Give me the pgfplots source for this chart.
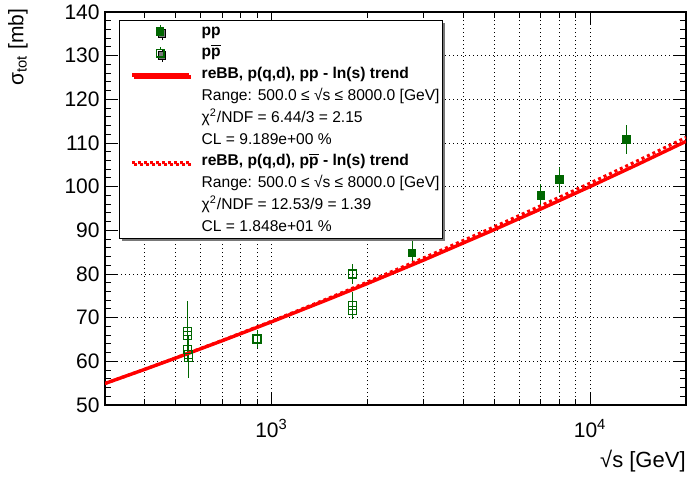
\documentclass[border=0pt]{standalone}
\usepackage{pgfplots}
\pgfplotsset{compat=1.18}
\usepackage{pgfplotstable}
\usepackage{fontspec}
\setmainfont{Liberation Sans}
\usetikzlibrary{shadows}
\definecolor{dgreen}{RGB}{0,102,0}
\definecolor{shadowgray}{RGB}{120,120,120}

\pgfplotstableread{
x y ey
2760 84.8 3.0
7000 98.0 2.7
8000 101.7 2.9
13000 110.8 3.4
}\pptab

\pgfplotstableread{
x y ey
546 66.8 7.0
546 66.0 1.6
546 62.8 1.5
550 61.5 1.0
550 60.9 4.8
900 65.1 2.0
1800 80.0 2.2
1800 72.8 3.1
1800 71.7 2.0
}\ppbartab

\pgfplotstableread{
x y
300 54.93
400 58.17
500 60.75
700 64.72
1000 69.05
1500 74.13
2000 77.83
3000 83.18
5000 90.16
7000 94.89
10000 100.03
14000 104.99
20000 110.38
}\solidtab

\pgfplotstableread{
x y
300 54.93
400 58.19
500 60.80
700 64.80
1000 69.20
1500 74.38
2000 78.18
3000 83.68
5000 90.81
7000 95.64
10000 100.83
14000 105.84
20000 111.28
}\dottab

\pgfplotsset{
  mylinelegend/.style={legend image code/.code={\path (0pt,0pt); \draw[##1] (4pt,0pt) -- (32.5pt,0pt);}},
}

\begin{document}
\begin{tikzpicture}
\useasboundingbox (-52.5pt,-39pt) rectangle (292pt,202.5pt);
\begin{axis}[
  at={(0pt,0pt)}, anchor=south west,
  scale only axis, width=290.5pt, height=196.5pt,
  xmode=log, xmin=300, xmax=20000, ymin=50, ymax=140,
  xtick={1000,10000},
  xticklabels={10\textsuperscript{3},10\textsuperscript{4}},
  minor xtick={400,500,600,700,800,900,2000,3000,4000,5000,6000,7000,8000,9000,20000},
  ytick={50,60,...,140},
  minor ytick={52,54,...,138},
  tick pos=both, tick align=inside,
  major tick length=6pt, minor tick length=3.2pt,
  tick style={black, line width=0.5pt},
  axis line style={line width=0.6pt},
  xmajorgrids, xminorgrids, ymajorgrids,
  grid style={black, line width=0.45pt, dash pattern=on 0.55pt off 1.45pt},
  minor grid style={black, line width=0.45pt, dash pattern=on 0.55pt off 1.45pt},
  /pgf/number format/assume math mode=true,
  ticklabel style={font=\fontsize{10.5}{12}\selectfont},
  yticklabel style={inner xsep=0pt, xshift=-2.5pt},
  xticklabel style={anchor=base, yshift=-16pt},
  xlabel={√s [GeV]},
  xlabel style={font=\fontsize{11}{13}\selectfont, at={(axis description cs:1,-0.158)}, anchor=base east, inner sep=0pt},
  ylabel={σ\textsubscript{tot} [mb]},
  ylabel style={font=\fontsize{10.5}{12}\selectfont, at={(axis description cs:-0.1497,1.01)}, anchor=east, inner sep=0pt},
  legend cell align=left,
  legend style={at={(axis description cs:0.0241,0.9796)}, anchor=north west,
    draw=black, line width=0.5pt, fill=white, inner xsep=1.5pt, inner ysep=0pt,
    font=\fontsize{7.8}{9.4}\selectfont, column sep=5.5pt, row sep=0pt,
    nodes={inner xsep=0pt, inner ysep=0.25pt, text height=7pt, text depth=3.4pt},
    drop shadow={shadow xshift=1pt, shadow yshift=-1pt, fill=shadowgray, opacity=1}},
]
\addplot[forget plot, only marks, mark=square*, mark size=1.9pt, dgreen,
  mark options={fill=dgreen, draw=dgreen, line width=0.4pt},
  error bars/.cd, y dir=both, y explicit, error mark=none,
  error bar style={line width=0.5pt, dgreen}]
  table[x=x, y=y, y error=ey]{\pptab};
\addplot[forget plot, only marks, mark=square, mark size=2pt, dgreen,
  mark options={draw=dgreen, line width=0.6pt, fill=none},
  error bars/.cd, y dir=both, y explicit, error mark=none,
  error bar style={line width=0.5pt, dgreen}]
  table[x=x, y=y, y error=ey]{\ppbartab};
\addplot[forget plot, red, line width=1.7pt, no marks] table[x=x, y=y]{\solidtab};
\addplot[forget plot, red, line width=1.5pt, no marks, dash pattern=on 1.5pt off 1.5pt] table[x=x, y=y]{\dottab};

\addlegendimage{legend image code/.code={\path (0pt,-3.5pt) (32.5pt,3.5pt); \draw[dgreen, line width=0.5pt] (18pt,-3.3pt) -- (18pt,3.3pt); \fill[dgreen] (16.1pt,-1.9pt) rectangle (19.9pt,1.9pt);}}
\addlegendentry{\textbf{pp}}
\addlegendimage{legend image code/.code={\path (0pt,-3.5pt) (32.5pt,3.5pt); \draw[dgreen, line width=0.5pt] (18pt,-3.3pt) -- (18pt,-1.9pt) (18pt,1.9pt) -- (18pt,3.3pt); \draw[dgreen, line width=0.6pt] (16.1pt,-1.9pt) rectangle (19.9pt,1.9pt);}}
\addlegendentry{\textbf{p$\overline{\mbox{p}}$}}
\addlegendimage{red, line width=1.6pt, mylinelegend}
\addlegendentry{\textbf{reBB, p(q,d), pp - ln(s) trend}}
\addlegendimage{empty legend}
\addlegendentry{Range: 500.0 ≤ √s ≤ 8000.0 [GeV]}
\addlegendimage{empty legend}
\addlegendentry{χ\textsuperscript{2}/NDF = 6.44/3 = 2.15}
\addlegendimage{empty legend}
\addlegendentry{CL = 9.189e+00 \%}
\addlegendimage{red, line width=1.5pt, dash pattern=on 1.5pt off 1.5pt, mylinelegend}
\addlegendentry{\textbf{reBB, p(q,d), p$\overline{\mbox{p}}$ - ln(s) trend}}
\addlegendimage{empty legend}
\addlegendentry{Range: 500.0 ≤ √s ≤ 8000.0 [GeV]}
\addlegendimage{empty legend}
\addlegendentry{χ\textsuperscript{2}/NDF = 12.53/9 = 1.39}
\addlegendimage{empty legend}
\addlegendentry{CL = 1.848e+01 \%}
\end{axis}
\end{tikzpicture}
\end{document}
